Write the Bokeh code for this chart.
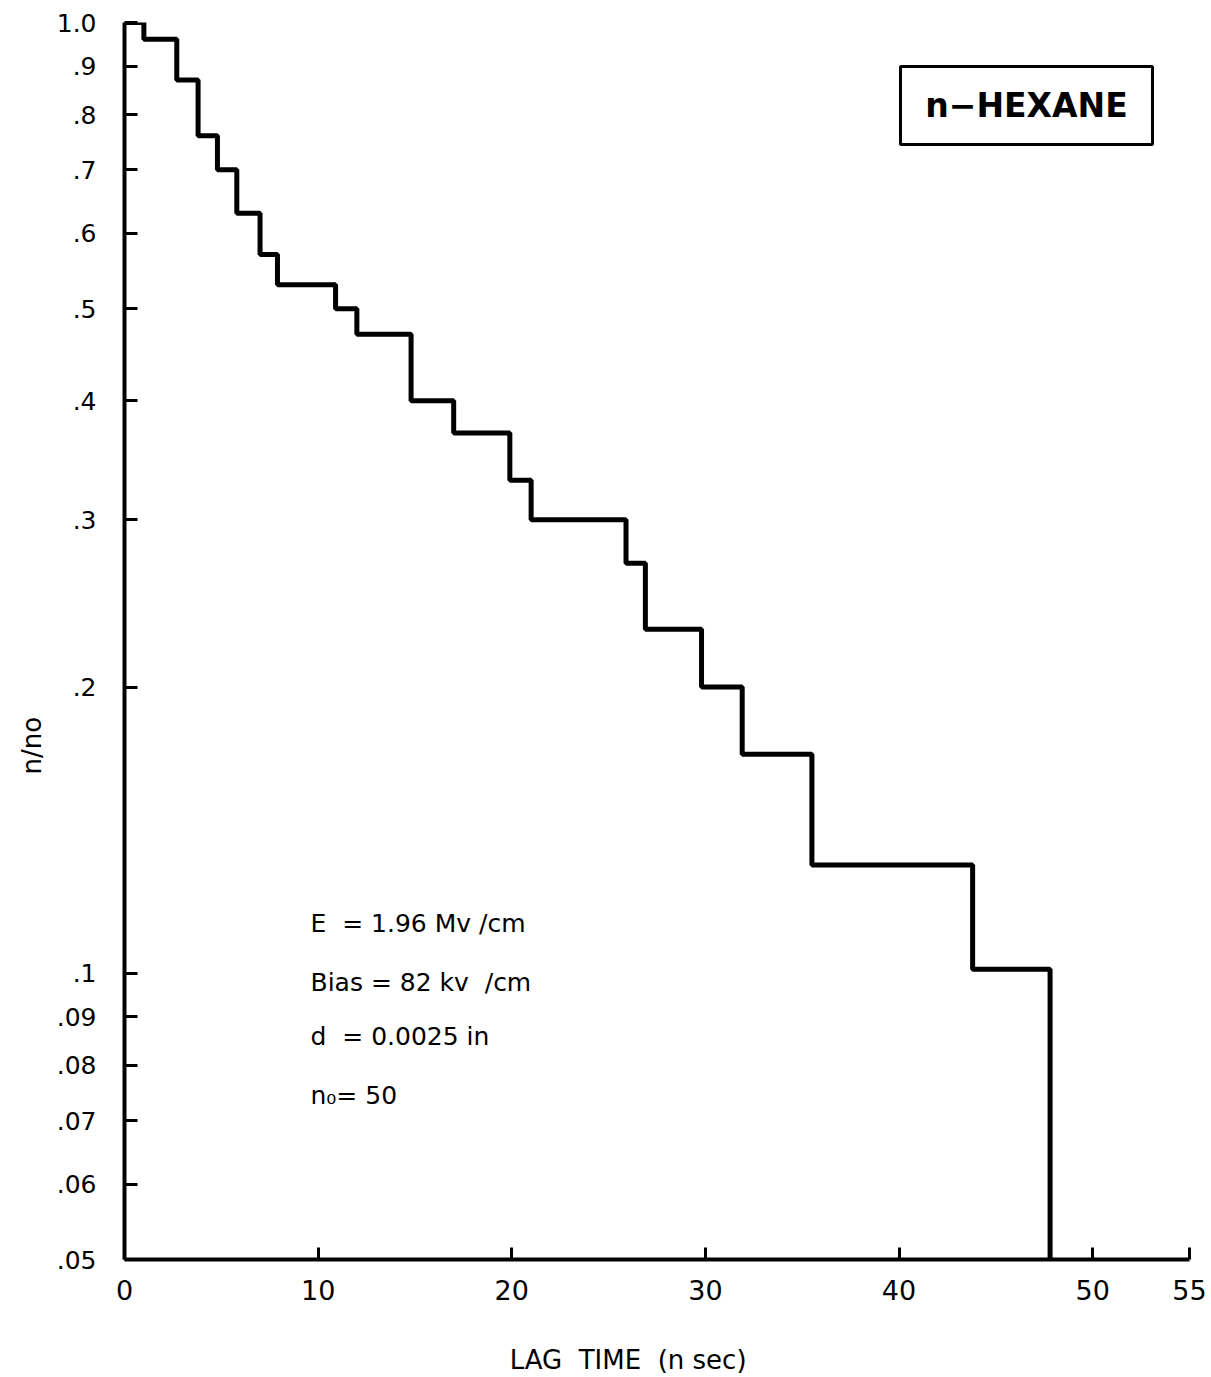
from bokeh.plotting import figure
from bokeh.models import Range1d, FixedTicker, Label, BoxAnnotation, Title
from bokeh.embed import file_html
from bokeh.resources import INLINE

# ---- data ----
lag_edges = [0, 1, 2.7, 3.8, 4.8, 5.8, 7.0, 7.9, 10.9, 12.0, 14.8, 17.0, 19.9,
             21.0, 25.9, 26.9, 29.8, 31.9, 35.5, 43.8, 47.8]
ratio_values = [1.0, 0.96, 0.87, 0.76, 0.70, 0.63, 0.57, 0.53, 0.50, 0.47, 0.40,
                0.37, 0.33, 0.30, 0.27, 0.23, 0.20, 0.17, 0.13, 0.101]
y_floor = 0.05

y_ticks = [0.05, 0.06, 0.07, 0.08, 0.09, 0.1, 0.2, 0.3, 0.4, 0.5, 0.6, 0.7, 0.8, 0.9, 1.0]
y_tick_labels = [".05", ".06", ".07", ".08", ".09", ".1", ".2", ".3", ".4", ".5",
                 ".6", ".7", ".8", ".9", "1.0"]
x_ticks = [0, 10, 20, 30, 40, 50, 55]

NB = "\u00a0"
notes = ["E" + NB + NB + "= 1.96 Mv /cm", "Bias = 82 kv" + NB + " /cm",
         "d" + NB + NB + "= 0.0025 in", "n\u2080= 50"]
title_text = "n\u2212HEXANE"
# trailing no-break spaces shift the centred label to the left, as in the original
x_label = "LAG" + NB + NB + "TIME" + NB + NB + "(n sec)" + NB * 7
y_label = "n/no"

FONT = "DejaVu Sans"

p = figure(width=1211, height=1377, output_backend="svg", toolbar_location=None,
           x_range=Range1d(0, 55), y_range=Range1d(y_floor, 1.0), y_axis_type="log",
           min_border_left=124, min_border_right=22, min_border_top=22,
           min_border_bottom=117)
p.outline_line_color = None
p.xgrid.visible = False
p.ygrid.visible = False
p.background_fill_color = "white"
p.border_fill_color = "white"

# step curve
xs = list(lag_edges)
ys = list(ratio_values) + [y_floor]
p.step(xs, ys, mode="after", line_color="black", line_width=5)

# axes
xa = p.xaxis[0]
xa.ticker = FixedTicker(ticks=x_ticks, minor_ticks=[])
xa.axis_line_width = 4
xa.major_tick_line_width = 3
xa.major_tick_in = 12
xa.major_tick_out = 0
xa.minor_tick_line_color = None
xa.major_label_standoff = 20
xa.major_label_text_font = FONT
xa.major_label_text_font_size = "27px"
xa.major_label_text_color = "black"
xa.axis_label = x_label
xa.axis_label_standoff = 42
xa.axis_label_text_font = FONT
xa.axis_label_text_font_size = "26px"
xa.axis_label_text_font_style = "normal"
xa.axis_label_text_color = "black"

ya = p.yaxis[0]
ya.ticker = FixedTicker(ticks=y_ticks, minor_ticks=[])
ya.major_label_overrides = {t: l for t, l in zip(y_ticks, y_tick_labels)}
ya.axis_line_width = 4
ya.major_tick_line_width = 3
ya.major_tick_in = 13
ya.major_tick_out = 0
ya.minor_tick_line_color = None
ya.major_label_standoff = 28
ya.major_label_text_font = FONT
ya.major_label_text_font_size = "25px"
ya.major_label_text_color = "black"

# y-axis title as a side-panel title (placed lower than centre, as in the original)
p.add_layout(Title(text=y_label, align="left", offset=485, standoff=14,
                   text_font=FONT, text_font_size="26px", text_font_style="normal",
                   text_color="black"), "left")

# parameter notes
note_y = [336, 277, 223, 164]
for t, yy in zip(notes, note_y):
    p.add_layout(Label(x=186, y=yy, x_units="screen", y_units="screen", text=t,
                       text_align="left", text_baseline="middle", text_font=FONT,
                       text_font_size="25px", text_color="black"))

# boxed title
p.add_layout(BoxAnnotation(left=776, right=1028, bottom=1115, top=1193,
                           left_units="screen", right_units="screen",
                           bottom_units="screen", top_units="screen",
                           fill_color=None, fill_alpha=0, line_color="black",
                           line_alpha=1.0, line_width=3))
p.add_layout(Label(x=902, y=1154, x_units="screen", y_units="screen", text=title_text,
                   text_align="center", text_baseline="middle", text_font=FONT,
                   text_font_style="bold", text_font_size="33px", text_color="black"))

open("out.html", "w").write(file_html(p, INLINE))
